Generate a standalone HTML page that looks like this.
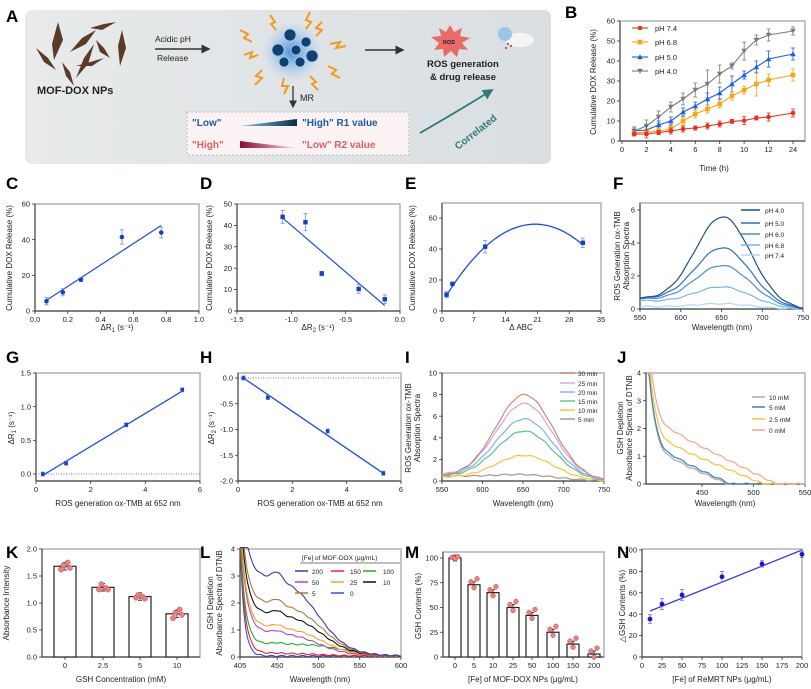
<!DOCTYPE html>
<html><head><meta charset="utf-8"><style>
html,body{margin:0;padding:0;background:#fff}
svg{display:block;font-family:"Liberation Sans Narrow","Liberation Sans",sans-serif}
.pl{font-family:"Liberation Sans",sans-serif;font-weight:bold;font-size:17px}
.t{font-size:7.5px;fill:#222}
.at{font-size:8px;fill:#222}
</style></head><body>
<svg id="s" width="811" height="689" viewBox="0 0 811 689" xmlns="http://www.w3.org/2000/svg">
<defs>
<linearGradient id="bg" x1="0" x2="1"><stop offset="0" stop-color="#e8eaeb"/><stop offset="1" stop-color="#d9dee1"/></linearGradient>
<linearGradient id="g1" x1="0" x2="1"><stop offset="0" stop-color="#7ec8ee"/><stop offset="1" stop-color="#0c2c4a"/></linearGradient>
<linearGradient id="g2" x1="0" x2="1"><stop offset="0" stop-color="#8a0a3a"/><stop offset="1" stop-color="#fbd6dc"/></linearGradient>
<radialGradient id="glow"><stop offset="0" stop-color="#4a90e0"/><stop offset="1" stop-color="#9cc8f4" stop-opacity="0"/></radialGradient>
<marker id="ah" markerWidth="6" markerHeight="6" refX="5" refY="3" orient="auto"><path d="M0,0L6,3L0,6z" fill="#333"/></marker>
<marker id="aht" markerWidth="6" markerHeight="6" refX="5" refY="3" orient="auto"><path d="M0,0L6,3L0,6z" fill="#2f7a7a"/></marker>
</defs>
<text class="pl" x="6" y="22">A</text><text class="pl" x="565" y="18">B</text>
<text class="pl" x="6" y="189">C</text><text class="pl" x="200" y="189">D</text><text class="pl" x="405" y="189">E</text><text class="pl" x="613" y="189">F</text>
<text class="pl" x="6" y="363">G</text><text class="pl" x="200" y="363">H</text><text class="pl" x="405" y="363">I</text><text class="pl" x="617" y="363">J</text>
<text class="pl" x="6" y="558">K</text><text class="pl" x="200" y="558">L</text><text class="pl" x="405" y="558">M</text><text class="pl" x="617" y="558">N</text>

<rect x="25" y="10" width="526" height="154" rx="7" fill="url(#bg)"/>
<g fill="#5b3a26">
<polygon points="58,22 63,40 54,60 52,44"/><polygon points="70,52 82,38 96,30 86,44"/><polygon points="76,78 84,58 94,44 88,64"/>
<polygon points="36,48 48,58 56,70 44,62"/><polygon points="90,28 104,24 116,22 102,30"/><polygon points="122,30 126,48 120,66 118,46"/>
<polygon points="62,62 70,72 74,86 66,76"/><polygon points="76,66 90,62 104,58 92,66"/><polygon points="96,40 104,48 110,58 100,52"/>
</g>
<text x="37" y="94" font-family="Liberation Sans" font-weight="bold" font-size="11" fill="#222">MOF-DOX NPs</text>
<text x="155" y="42" font-family="Liberation Sans" font-size="8.5" fill="#222">Acidic pH</text>
<text x="157" y="61" font-family="Liberation Sans" font-size="8.5" fill="#222">Release</text>
<line x1="155" y1="49" x2="209" y2="49" stroke="#333" stroke-width="1.5" marker-end="url(#ah)"/>
<circle cx="292" cy="52" r="30" fill="url(#glow)"/>
<g fill="#12406e" stroke="#9cd0f6" stroke-width="0.8">
<circle cx="290" cy="35" r="6"/><circle cx="278" cy="50" r="6"/><circle cx="296" cy="50" r="5"/><circle cx="306" cy="42" r="5"/><circle cx="312" cy="56" r="6"/><circle cx="284" cy="62" r="5"/><circle cx="300" cy="62" r="5"/></g>
<g stroke="#f39a1e" stroke-width="2" fill="none">
<polyline points="270,15 275,22 271,24 276,30"/><polyline points="310,12 306,20 311,22 306,29"/><polyline points="322,22 316,28 322,30 316,36"/>
<polyline points="240,30 248,34 244,38 252,42"/><polyline points="244,55 252,52 250,58 258,55"/><polyline points="262,70 256,76 262,78 255,85"/>
<polyline points="284,78 282,86 288,86 284,94"/><polyline points="310,76 316,82 312,84 318,90"/><polyline points="328,66 336,70 332,74 340,78"/><polyline points="330,44 340,42 336,48 346,46"/></g>
<line x1="365" y1="50" x2="403" y2="50" stroke="#333" stroke-width="1.5" marker-end="url(#ah)"/>
<polygon points="450,25 454,32 462,28 460,36 470,38 462,43 468,50 459,49 457,57 451,51 444,57 443,49 434,50 439,43 431,37 441,36 439,28 446,32" fill="#e86a6a"/>
<text x="443" y="44" font-family="Liberation Sans" font-size="5.5" font-weight="bold" fill="#222">ROS</text>
<ellipse cx="520" cy="40" rx="14" ry="7" fill="#f4f4f4"/><circle cx="505" cy="34" r="7" fill="#9cc4e6"/>
<g fill="#c02030"><circle cx="508" cy="44" r="1"/><circle cx="511" cy="46" r="1"/><circle cx="506" cy="48" r="1"/></g>
<text x="427" y="67" font-family="Liberation Sans" font-weight="bold" font-size="9.5" fill="#222">ROS generation</text>
<text x="430" y="80" font-family="Liberation Sans" font-weight="bold" font-size="9.5" fill="#222">&amp; drug release</text>
<line x1="293" y1="86" x2="293" y2="107" stroke="#333" stroke-width="1.3" marker-end="url(#ah)"/>
<text x="300" y="101" font-family="Liberation Sans" font-size="9" fill="#222">MR</text>
<rect x="187" y="112" width="222" height="43" fill="#fbf3f3" stroke="#bbb" stroke-dasharray="2,2"/>
<text x="192" y="126" font-family="Liberation Sans" font-weight="bold" font-size="10" fill="#1e5aa0">"Low"</text>
<polygon points="240,126 297,126 297,119" fill="url(#g1)"/>
<text x="302" y="126" font-family="Liberation Sans" font-weight="bold" font-size="10" fill="#1e5aa0">"High" R1 value</text>
<text x="192" y="148" font-family="Liberation Sans" font-weight="bold" font-size="10" fill="#d86060">"High"</text>
<polygon points="240,141 240,148 297,148" fill="url(#g2)"/>
<text x="302" y="148" font-family="Liberation Sans" font-weight="bold" font-size="10" fill="#d86060">"Low" R2 value</text>
<path d="M420,133 Q460,110 492,90" stroke="#2f7a7a" stroke-width="1.8" fill="none" marker-end="url(#aht)"/>
<text x="0" y="0" transform="translate(458,150) rotate(-38)" font-family="Liberation Sans" font-weight="bold" font-size="10" fill="#2f7a7a">Correlated</text>

<g id="plots"></g>

<text class="at" x="714" y="171" text-anchor="middle">Time (h)</text>
<text class="at" transform="translate(596,82) rotate(-90)" text-anchor="middle" font-size="9">Cumulative DOX Release (%)</text>
<text class="at" transform="translate(12,258) rotate(-90)" text-anchor="middle">Cumulative DOX Release (%)</text>
<text class="at" transform="translate(212,258) rotate(-90)" text-anchor="middle">Cumulative DOX Release (%)</text>
<text class="at" transform="translate(415,258) rotate(-90)" text-anchor="middle">Cumulative DOX Release (%)</text>
<text class="at" transform="translate(620,256) rotate(-90)" text-anchor="middle">ROS Generation ox-TMB</text>
<text class="at" transform="translate(629,256) rotate(-90)" text-anchor="middle">Absorption Spectra</text>
<text class="at" x="117" y="330" text-anchor="middle">ΔR<tspan font-size="6" dy="2">1</tspan><tspan dy="-2"> (s⁻¹)</tspan></text>
<text class="at" x="318" y="330" text-anchor="middle">ΔR<tspan font-size="6" dy="2">2</tspan><tspan dy="-2"> (s⁻¹)</tspan></text>
<text class="at" x="521" y="330" text-anchor="middle">Δ ABC</text>
<text class="at" x="722" y="330" text-anchor="middle">Wavelength (nm)</text>
<text class="at" transform="translate(14,428) rotate(-90)" text-anchor="middle">ΔR<tspan font-size="6" dy="2">1</tspan><tspan dy="-2"> (s⁻¹)</tspan></text>
<text class="at" transform="translate(214,428) rotate(-90)" text-anchor="middle">ΔR<tspan font-size="6" dy="2">2</tspan><tspan dy="-2"> (s⁻¹)</tspan></text>
<text class="at" transform="translate(411,428) rotate(-90)" text-anchor="middle">ROS Generation ox-TMB</text>
<text class="at" transform="translate(420,428) rotate(-90)" text-anchor="middle">Absorption Spectra</text>
<text class="at" transform="translate(623,428) rotate(-90)" text-anchor="middle">GSH Depletion</text>
<text class="at" transform="translate(632,428) rotate(-90)" text-anchor="middle">Absorbance Spectra of DTNB</text>
<text class="at" x="118" y="506" text-anchor="middle">ROS generation ox-TMB at 652 nm</text>
<text class="at" x="320" y="506" text-anchor="middle">ROS generation ox-TMB at 652 nm</text>
<text class="at" x="523" y="506" text-anchor="middle">Wavelength (nm)</text>
<text class="at" x="725" y="506" text-anchor="middle">Wavelength (nm)</text>
<text class="at" transform="translate(9,603) rotate(-90)" text-anchor="middle">Absorbance Intensity</text>
<text class="at" transform="translate(213,603) rotate(-90)" text-anchor="middle">GSH Depletion</text>
<text class="at" transform="translate(222,603) rotate(-90)" text-anchor="middle">Absorbance Spectra of DTNB</text>
<text class="at" transform="translate(421,606) rotate(-90)" text-anchor="middle">GSH Contents (%)</text>
<text class="at" transform="translate(625,606) rotate(-90)" text-anchor="middle">△GSH Contents (%)</text>
<text class="at" x="121" y="682" text-anchor="middle">GSH Concentration (mM)</text>
<text class="at" x="320" y="682" text-anchor="middle">Wavelength (nm)</text>
<text class="at" x="523" y="682" text-anchor="middle">[Fe] of MOF-DOX NPs (μg/mL)</text>
<text class="at" x="722" y="682" text-anchor="middle">[Fe] of ReMRT NPs (μg/mL)</text>

<g class="t">
<text x="655" y="31">pH 7.4</text><text x="655" y="45">pH 6.8</text><text x="655" y="60">pH 5.0</text><text x="655" y="74">pH 4.0</text>
<text x="765" y="213" font-size="6.5">pH 4.0</text><text x="765" y="226" font-size="6.5">pH 5.0</text><text x="765" y="237" font-size="6.5">pH 6.0</text><text x="765" y="248" font-size="6.5">pH 6.8</text><text x="765" y="258" font-size="6.5">pH 7.4</text>
<text x="578" y="376" font-size="6.5">30 min</text><text x="578" y="386" font-size="6.5">25 min</text><text x="578" y="395" font-size="6.5">20 min</text><text x="578" y="404" font-size="6.5">15 min</text><text x="578" y="413" font-size="6.5">10 min</text><text x="578" y="422" font-size="6.5">5 min</text>
<text x="769" y="400" font-size="6.5">10 mM</text><text x="769" y="410" font-size="6.5">5 mM</text><text x="769" y="422" font-size="6.5">2.5 mM</text><text x="769" y="433" font-size="6.5">0 mM</text>
<text x="302" y="560" font-size="6.5">[Fe] of MOF-DOX (μg/mL)</text>
<text x="312" y="574" font-size="6.5">200</text><text x="350" y="574" font-size="6.5">150</text><text x="383" y="574" font-size="6.5">100</text>
<text x="312" y="585" font-size="6.5">50</text><text x="350" y="585" font-size="6.5">25</text><text x="383" y="585" font-size="6.5">10</text>
<text x="312" y="596" font-size="6.5">5</text><text x="350" y="596" font-size="6.5">0</text>
</g>
<line x1="300" y1="563" x2="400" y2="563" stroke="#555" stroke-width="0.7"/>
<g id="tl"></g>
</svg>
<script>
const NS="http://www.w3.org/2000/svg",G=document.getElementById('plots'),TL=document.getElementById('tl');
function el(t,a,txt,p){const e=document.createElementNS(NS,t);for(const k in a)e.setAttribute(k,a[k]);if(txt!=null)e.textContent=txt;(p||G).appendChild(e);return e;}
function lin(a0,a1,p0,p1){return v=>p0+(v-a0)*(p1-p0)/(a1-a0);}
function frame(x0,x1,yt,yb,xt,yt2,X,Y){
 el('rect',{x:x0,y:yt,width:x1-x0,height:yb-yt,fill:'none',stroke:'#b5b5b5','stroke-width':1.6});
 el('line',{x1:x0,y1:yt,x2:x0,y2:yb,stroke:'#333','stroke-width':0.9});
 el('line',{x1:x0,y1:yb,x2:x1,y2:yb,stroke:'#333','stroke-width':0.9});
 xt.forEach(([v,l])=>{const x=X(v);el('line',{x1:x,y1:yb,x2:x,y2:yb+3,stroke:'#333','stroke-width':0.8});el('text',{x:x,y:yb+11,'text-anchor':'middle','class':'t'},l,TL);});
 yt2.forEach(([v,l])=>{const y=Y(v);el('line',{x1:x0-3,y1:y,x2:x0,y2:y,stroke:'#333','stroke-width':0.8});el('text',{x:x0-5,y:y+2.6,'text-anchor':'end','class':'t'},l,TL);});
}
function path(pts,c,w,extra){let d=pts.map((p,i)=>(i?'L':'M')+p[0].toFixed(1)+','+p[1].toFixed(1)).join('');const a={d:d,stroke:c,'stroke-width':w||1.2,fill:'none'};Object.assign(a,extra||{});return el('path',a);}
function eb(x,y1,y2,c){el('line',{x1:x,y1:y1,x2:x,y2:y2,stroke:c,'stroke-width':0.8});el('line',{x1:x-2,y1:y1,x2:x+2,y2:y1,stroke:c,'stroke-width':0.8});el('line',{x1:x-2,y1:y2,x2:x+2,y2:y2,stroke:c,'stroke-width':0.8});}
function mk(x,y,c,s){const r=2.3;if(s=='c')el('circle',{cx:x,cy:y,r:r,fill:c});else if(s=='s')el('rect',{x:x-r,y:y-r,width:2*r,height:2*r,fill:c});else if(s=='u')el('polygon',{points:`${x},${y-r-.5} ${x-r-.5},${y+r} ${x+r+.5},${y+r}`,fill:c});else el('polygon',{points:`${x},${y+r+.5} ${x-r-.5},${y-r} ${x+r+.5},${y-r}`,fill:c});}
function spec(w0,w1,f,X,Y,c,w){const p=[];for(let v=w0;v<=w1;v+=1)p.push([X(v),Y(Math.max(0,f(v)))]);path(p,c,w||1.1);}
{const X=lin(0,14,622,793),Y=lin(0,60,141,21);
frame(620,805,21,141,[[0,'0'],[2,'2'],[4,'4'],[6,'6'],[8,'8'],[10,'10'],[12,'12'],[14,'24']],[[0,'0'],[10,'10'],[20,'20'],[30,'30'],[40,'40'],[50,'50'],[60,'60']],X,Y);
const xs=[1,2,3,4,5,6,7,8,9,10,11,12,14];
const S=[['#7a7a7a','d',[5,7.5,12,17,21,25.5,28.5,33.5,37.5,45,50.5,53,55],[1,3,3,2.5,3,3.5,7,4.5,1.5,4.5,2.5,3,2]],
['#1f5fe0','u',[5,5.5,8,10,14.5,17.5,21,24,28.5,33,37,41,43.5],[2,2,2,2,2,2,3,3,4,2,3,4,3]],
['#f5a31a','s',[4,4.5,5,6,10,13.5,16,18.5,22.5,25.5,28.5,30.5,33],[1,1,1,1.5,2,2,2,2,2,2,6,3,3]],
['#e8321e','c',[3.5,3.5,4.2,5,6,6.5,7.5,8.5,9.8,10.2,11.5,12,14],[1,2,1,1.5,1.5,1,1.5,1.5,1,2,1,2,2]]];
S.forEach(([c,s,v,e])=>{path(xs.map((x,i)=>[X(x),Y(v[i])]),c,1.1);xs.forEach((x,i)=>{eb(X(x),Y(v[i]+e[i]),Y(v[i]-e[i]),c);mk(X(x),Y(v[i]),c,s);});});
[['#e8321e','c',28],['#f5a31a','s',42],['#1f5fe0','u',57],['#7a7a7a','d',71]].forEach(([c,s,y])=>{el('line',{x1:632,y1:y,x2:648,y2:y,stroke:c,'stroke-width':1.1});mk(640,y,c,s);});}
const BL='#1f4fd8';
{const X=lin(0,1,35,199),Y=lin(0,60,311,204);frame(35,199,204,311,[[0,'0.0'],[.2,'0.2'],[.4,'0.4'],[.6,'0.6'],[.8,'0.8'],[1,'1.0']],[[0,'0'],[20,'20'],[40,'40'],[60,'60']],X,Y);
path([[X(.07),Y(6)],[X(.77),Y(48)]],BL,1.2);[[.07,5.5,2],[.17,10.5,2],[.28,17.5,1],[.53,41.5,4],[.77,44,3]].forEach(([a,b,e])=>{eb(X(a),Y(b+e),Y(b-e),'#6a8ee8');el('circle',{cx:X(a),cy:Y(b),r:2.3,fill:'#1a3fc0'});});}
{const X=lin(-1.5,0,237,400),Y=lin(0,50,311,204);frame(237,400,204,311,[[-1.5,'-1.5'],[-1,'-1.0'],[-.5,'-0.5'],[0,'0.0']],[[0,'0'],[10,'10'],[20,'20'],[30,'30'],[40,'40'],[50,'50']],X,Y);
path([[X(-1.08),Y(43.5)],[X(-.14),Y(2.5)]],BL,1.2);[[-1.08,44,3],[-.87,41.5,4],[-.72,17.5,1],[-.38,10.3,2],[-.14,5.5,2]].forEach(([a,b,e])=>{eb(X(a),Y(b+e),Y(b-e),'#6a8ee8');el('rect',{x:X(a)-2.2,y:Y(b)-2.2,width:4.4,height:4.4,fill:'#1a3fc0'});});}
{const X=lin(0,35,442,601),Y=lin(0,70,311,202.5);frame(442,601,203,311,[[0,'0'],[7,'7'],[14,'14'],[21,'21'],[28,'28'],[35,'35']],[[0,'0'],[20,'20'],[40,'40'],[60,'60']],X,Y);
const p=[];for(let v=1;v<=31;v+=.5)p.push([X(v),Y(56-0.121*(v-20.5)**2)]);path(p,BL,1.3);
[[1,10.5,2],[2.3,17.5,1],[9.5,41.5,4],[31,44,3]].forEach(([a,b,e])=>{eb(X(a),Y(b+e),Y(b-e),'#6a8ee8');el('rect',{x:X(a)-2.2,y:Y(b)-2.2,width:4.4,height:4.4,fill:'#1a3fc0'});});}
{const X=lin(550,750,640,803),Y=lin(0,6,309,210);frame(640,803,203,309,[[550,'550'],[600,'600'],[650,'650'],[700,'700'],[750,'750']],[[0,'0'],[2,'2'],[4,'4'],[6,'6']],X,Y);
[['#b4d6f4',0.25,0.15],['#7ab4e8',1.1,0.5],['#4a8fd0',2.35,0.6],['#2e6fb0',3.4,0.65],['#1c4f8c',5.3,0.6]].forEach(([c,A,b],i)=>{spec(550,750,w=>(w<745?b*(1-(w-550)/195):0)+A*Math.exp(-(((w-652)/48)**2))+0.03*Math.sin(w/4),X,Y,c,1.2);});
[['#1c4f8c',210],['#2e6fb0',223],['#4a8fd0',234],['#7ab4e8',245],['#b4d6f4',255]].forEach(([c,y])=>el('line',{x1:741,y1:y,x2:760,y2:y,stroke:c,'stroke-width':1.5}));}
{const X=lin(0,6,36,200),Y=lin(0,1.5,474,373);frame(36,200,373,481,[[0,'0'],[2,'2'],[4,'4'],[6,'6']],[[0,'0.0'],[.5,'0.5'],[1,'1.0'],[1.5,'1.5']],X,Y);
el('line',{x1:36,y1:474,x2:200,y2:474,stroke:'#555','stroke-dasharray':'1,1.5','stroke-width':.8});
path([[X(.25),Y(-.02)],[X(5.35),Y(1.23)]],BL,1.3);[[.25,0],[1.1,.16],[3.3,.73],[5.35,1.25]].forEach(([a,b])=>{eb(X(a),Y(b+.03),Y(b-.03),'#6a8ee8');el('rect',{x:X(a)-1.8,y:Y(b)-1.8,width:3.6,height:3.6,fill:'#1a3fc0'});});}
{const X=lin(0,6,238,401),Y=lin(0,-2,378,481);frame(238,401,373,481,[[0,'0'],[2,'2'],[4,'4'],[6,'6']],[[0,'0.0'],[-.5,'-0.5'],[-1,'-1.0'],[-1.5,'-1.5'],[-2,'-2.0']],X,Y);
el('line',{x1:238,y1:378,x2:401,y2:378,stroke:'#555','stroke-dasharray':'1,1.5','stroke-width':.8});
path([[X(.2),Y(0)],[X(5.35),Y(-1.85)]],BL,1.3);[[.2,0],[1.1,-.38],[3.3,-1.03],[5.35,-1.85]].forEach(([a,b])=>{eb(X(a),Y(b+.04),Y(b-.04),'#6a8ee8');el('rect',{x:X(a)-1.8,y:Y(b)-1.8,width:3.6,height:3.6,fill:'#1a3fc0'});});}
{const X=lin(550,750,442,604),Y=lin(0,10,481,373);frame(442,604,373,481,[[550,'550'],[600,'600'],[650,'650'],[700,'700'],[750,'750']],[[0,'0'],[2,'2'],[4,'4'],[6,'6'],[8,'8'],[10,'10']],X,Y);
[['#999999',0.35,0.5],['#f5c33a',2.2,0.35],['#5cc08a',4.4,0.45],['#80b0f0',5.5,0.5],['#d8a0e8',6.9,0.55],['#c98a74',7.8,0.4]].forEach(([c,A,b],i)=>{spec(550,750,w=>b*(1-(w-550)/200)+A*Math.exp(-(((w-652)/50)**2))+0.05*Math.sin(w/3+i),X,Y,c,1.2);});
[['#c98a74',373],['#d8a0e8',383],['#80b0f0',392],['#5cc08a',401],['#f5c33a',410],['#999999',419]].forEach(([c,y])=>el('line',{x1:560,y1:y,x2:575,y2:y,stroke:c,'stroke-width':1.4}));}
{const X=lin(450,550,702,805),Y=lin(0,4,484,373);frame(646,805,373,484,[[450,'450'],[500,'500'],[550,'550']],[[0,'0'],[1,'1'],[2,'2'],[3,'3'],[4,'4']],X,Y);
[['#aaaaaa',.8,475],['#3a80c0',.9,478],['#f5c33a',1.3,510],['#f4a594',1.8,522]].forEach(([c,s,e])=>{spec(397,550,w=>Math.min(4,3.5*Math.exp(-(w-398)/7)+Math.max(0,s*Math.min(1,(e-w)/(e-425)))+0.03*Math.sin(w/2)),X,Y,c,1.2);});
[['#aaaaaa',397],['#3a80c0',407],['#f5c33a',419],['#f4a594',430]].forEach(([c,y])=>el('line',{x1:752,y1:y,x2:765,y2:y,stroke:c,'stroke-width':1.5}));}
{const X=v=>v,Y=lin(0,2,657,549);frame(42,200,549,657,[[65,'0'],[103,'2.5'],[140,'5'],[177,'10']],[[0,'0.0'],[.5,'0.5'],[1,'1.0'],[1.5,'1.5'],[2,'2.0']],X,Y);
[[65,1.68,[1.62,1.7,1.75,1.65]],[103,1.29,[1.25,1.35,1.28,1.25]],[140,1.12,[1.1,1.15,1.12,1.08]],[177,.8,[.72,.82,.88,.78]]].forEach(([x,v,d])=>{el('rect',{x:x-11,y:Y(v),width:22,height:657-Y(v),fill:'#fff',stroke:'#222','stroke-width':1.2});eb(x,Y(v+.07),Y(v-.07),'#222');d.forEach((dv,i)=>el('circle',{cx:x-5+i*3.3+(i%2?0:1),cy:Y(dv),r:2.6,fill:'#f08080',stroke:'#b05050','stroke-width':.5}));});}
{const X=lin(405,600,240,401),Y=lin(0,4,657,549);frame(240,401,549,657,[[405,'405'],[450,'450'],[500,'500'],[550,'550'],[600,'600']],[[0,'0'],[1,'1'],[2,'2'],[3,'3'],[4,'4']],X,Y);
const C={200:'#3a3aa8',150:'#f02020',100:'#20b020',50:'#c040c0',25:'#f5a030',10:'#111',5:'#b07840',0:'#3050e0'};
[[0,0,480,5],[150,.1,500,6],[100,.45,530,6],[50,.9,500,7],[25,1.1,505,7],[10,1.6,505,7],[5,2.0,505,7],[200,3.0,500,7]].forEach(([k,p,e,kk])=>{spec(405,600,w=>Math.min(4.05,4.2*Math.exp(-(w-405)/kk)+p*(1+0.1*Math.exp(-(((w-450)/8)**2)))/(1+Math.exp((w-e)/18))+0.04+0.02*Math.sin(w/2)),X,Y,C[k],1.1);});
[[200,300,571],[150,336,571],[100,368,571],[50,300,582],[25,336,582],[10,368,582],[5,300,593],[0,336,593]].forEach(([k,x,y])=>el('line',{x1:x-5,y1:y,x2:x+8,y2:y,stroke:C[k],'stroke-width':1.5}));}
{const xs=[455,474,493,513,532,553,573,594],X=v=>v,Y=lin(0,100,657,558);
frame(443,604,552,657,xs.map((x,i)=>[x,['0','5','10','25','50','100','150','200'][i]]),[[0,'0'],[25,'25'],[50,'50'],[75,'75'],[100,'100']],X,Y);
[100,73,65,50,42,25,13,3].forEach((v,i)=>{const x=xs[i];el('rect',{x:x-6,y:Y(v),width:12,height:657-Y(v),fill:'#fff',stroke:'#222','stroke-width':1.2});eb(x,Y(v+3),Y(Math.max(0,v-3)),'#222');[-3,0,3].forEach((o,j)=>el('circle',{cx:x+o,cy:Y(v+[2,-2,4][j]*(i?1.5:0.3)),r:2.4,fill:'#f08080',stroke:'#b05050','stroke-width':.5}));});}
{const X=lin(0,200,642,802),Y=lin(0,100,657,550);frame(642,802,549,657,[[0,'0'],[25,'25'],[50,'50'],[75,'75'],[100,'100'],[125,'125'],[150,'150'],[175,'175'],[200,'200']],[[0,'0'],[20,'20'],[40,'40'],[60,'60'],[80,'80'],[100,'100']],X,Y);
path([[X(10),Y(43)],[X(200),Y(100)]],'#3a3ae0',1.3);[[10,35.5,4],[25,49.5,5],[50,58,5],[100,75,5],[150,87,3],[200,96,3]].forEach(([a,b,e])=>{eb(X(a),Y(b+e),Y(b-e),'#6a6ae8');el('circle',{cx:X(a),cy:Y(b),r:2.4,fill:'#1a1ac0'});});}
</script>
</body></html>
